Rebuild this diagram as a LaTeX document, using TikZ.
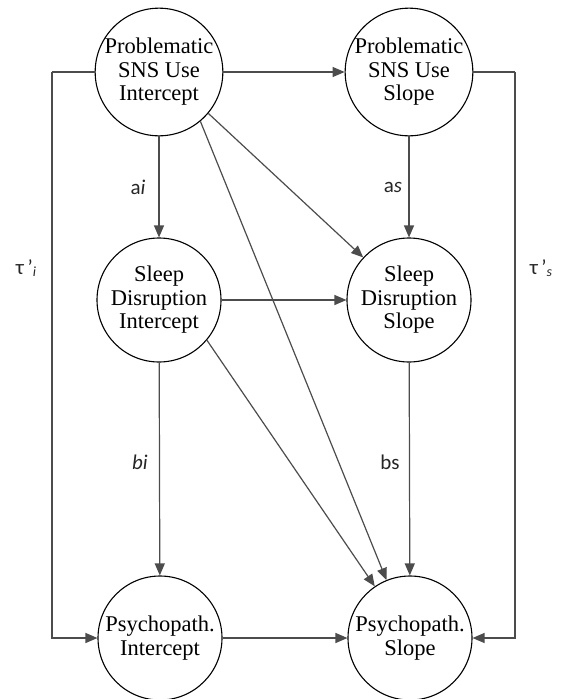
\documentclass[tikz,border=0pt]{standalone}
\usepackage{fontspec}
\setmainfont{Liberation Serif}
\newfontfamily\labelfont{Carlito}
\usetikzlibrary{arrows.meta}
\begin{document}
\begin{tikzpicture}[x=1pt,y=-1pt,
  latent/.style={circle,draw=black,line width=1.1pt,minimum size=124pt,inner sep=0pt,
    align=center,font=\fontsize{22.5}{23.5}\selectfont},
  path/.style={draw=black!70,line width=1.2pt,
    -{Triangle[length=12pt,width=10pt]}},
  plain/.style={draw=black!70,line width=1.2pt},
  coef/.style={font=\labelfont\fontsize{21}{24}\selectfont,text=black!85}]
\useasboundingbox (0,0) rectangle (566,699);

% latent growth factors
\node[latent] (pi) at (159,72)  {Problematic\\SNS Use\\Intercept};
\node[latent] (ps) at (409,72)  {Problematic\\SNS Use\\Slope};
\node[latent] (si) at (159,300) {Sleep\\Disruption\\Intercept};
\node[latent] (ss) at (409,300) {Sleep\\Disruption\\Slope};
\node[latent] (yi) at (160,638) {Psychopath.\\Intercept};
\node[latent] (ys) at (410,638) {Psychopath.\\Slope};

% elbow routes for the direct effects
\coordinate (lt) at (52,72);
\coordinate (lb) at (52,638);
\coordinate (rt) at (515,72);
\coordinate (rb) at (515,638);

% structural paths
\draw[path] (pi) -- (ps);
\draw[path] (pi) -- (si);
\draw[path] (ps) -- (ss);
\draw[path] (si) -- (ss);
\draw[path] (si) -- (yi);
\draw[path] (ss) -- (ys);
\draw[path] (yi) -- (ys);
\draw[path] (pi.-40) -- (ss);
\draw[path] (pi.-50) -- (ys);
\draw[path] (si.-40) -- (ys);
\draw[plain] (pi.west) -- (lt);
\draw[path] (lt) -- (lb) -- (yi.west);
\draw[plain] (ps.east) -- (rt);
\draw[path] (rt) -- (rb) -- (ys.east);

% path labels
\node[coef] (la) at (138,187) {a\textit{i}};
\node[coef] (las) at (393,187) {a\textit{s}};
\node[coef] (lb2) at (140,462) {\textit{bi}};
\node[coef] (lbs) at (390,462) {bs};
\node[coef] (lti) at (26,268) {τ\,’\raisebox{-2pt}{\fontsize{14}{16}\selectfont\textit{i}}};
\node[coef] (lts) at (541,268) {τ\,’\raisebox{-2pt}{\fontsize{14}{16}\selectfont\textit{s}}};
\end{tikzpicture}
\end{document}
